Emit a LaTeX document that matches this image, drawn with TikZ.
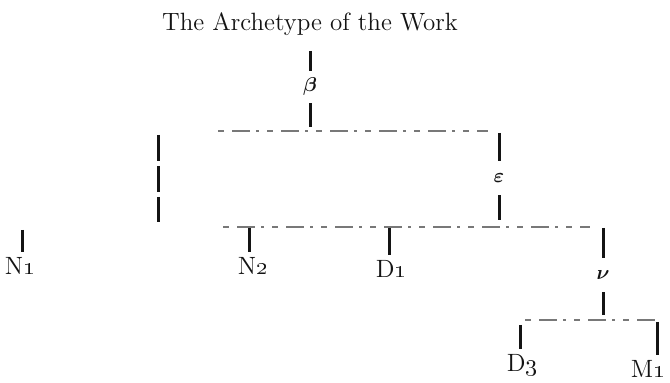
\documentclass[tikz,border=0pt]{standalone}
\usepackage{amsmath,amssymb,bm}
\usepackage{tikz}
\usetikzlibrary{positioning}

\begin{document}
\begin{tikzpicture}[x=0.5pt, y=-0.5pt, line cap=butt]

		% Colors
		\definecolor{InkBlack}{RGB}{20,20,20}
		\definecolor{RuleGray}{RGB}{120,120,120}

		% Styles
		\tikzset{
			bar/.style={draw=InkBlack, line width=1.5pt, shorten <=1.5pt, shorten >=1.5pt},
			broken/.style={bar, dash pattern=on 13pt off 2.5pt},
			hline/.style={draw=RuleGray, line width=0.6pt,
				dash pattern=on 3pt off 4pt on 9pt off 3pt on 1.5pt off 4pt},
			siglum/.style={inner xsep=0pt, inner ysep=1pt, text=InkBlack,
				font=\fontsize{12.5}{15}\selectfont},
			head/.style={siglum, inner ysep=6pt},
			greek/.style={inner xsep=0pt, inner ysep=4.75pt, text=InkBlack,
				font=\fontsize{10}{12}\selectfont}
		}

		\fill[white] (0,0) rectangle (670,383);

		% Nodes
		\node[head] (arch) at (310,24) {The Archetype of the Work};
		\node[greek, inner ysep=2pt] (beta) at (310,87) {$\bm{\beta}$};
		\node[greek] (eps) at (499,178) {$\bm{\varepsilon}$};
		\node[greek] (nu) at (603,275) {$\bm{\nu}$};

		\node[siglum] (N1) at (20,265.5) {N\oldstylenums{1}};
		\node[siglum] (N2) at (253,265.5) {N\oldstylenums{2}};
		\node[siglum] (D1) at (391,268.5) {D\oldstylenums{1}};
		\node[siglum] (D3) at (522,365.5) {D\oldstylenums{3}};
		\node[siglum] (M1) at (648,368.5) {M\oldstylenums{1}};

		% Junctions
		\coordinate (j1) at (310,130);
		\coordinate (L1w) at (218,131);
		\coordinate (L1e) at (488,131);
		\coordinate (lt) at (158,132);
		\coordinate (lb) at (158,225);
		\coordinate (j1e) at (499,130);
		\coordinate (j2) at (499,223);
		\coordinate (L2w) at (223,227);
		\coordinate (L2e) at (590,227);
		\coordinate (aN1) at (22,227);
		\coordinate (aN2) at (249,225);
		\coordinate (aD1) at (389,225);
		\coordinate (aR) at (603,225);
		\coordinate (j3) at (603,318);
		\coordinate (L3w) at (525,320);
		\coordinate (L3e) at (655,320);
		\coordinate (aD3) at (520,322);
		\coordinate (aM1) at (657,319);

		% Lines of descent
		\draw[bar] (arch) -- (beta);
		\draw[bar] (beta) -- (j1);
		\draw[hline] (L1w) -- (L1e);

		\draw[broken] (lt) -- (lb);
		\draw[bar] (j1e) -- (eps);
		\draw[bar] (eps) -- (j2);
		\draw[hline] (L2w) -- (L2e);

		\draw[bar] (aN1) -- (aN1 |- N1.north);
		\draw[bar] (aN2) -- (aN2 |- N2.north);
		\draw[bar] (aD1) -- (aD1 |- D1.north);
		\draw[bar] (aR) -- (nu);
		\draw[bar] (nu) -- (j3);
		\draw[hline] (L3w) -- (L3e);

		\draw[bar] (aD3) -- (aD3 |- D3.north);
		\draw[bar] (aM1) -- (aM1 |- M1.north);

	\end{tikzpicture}
\end{document}
